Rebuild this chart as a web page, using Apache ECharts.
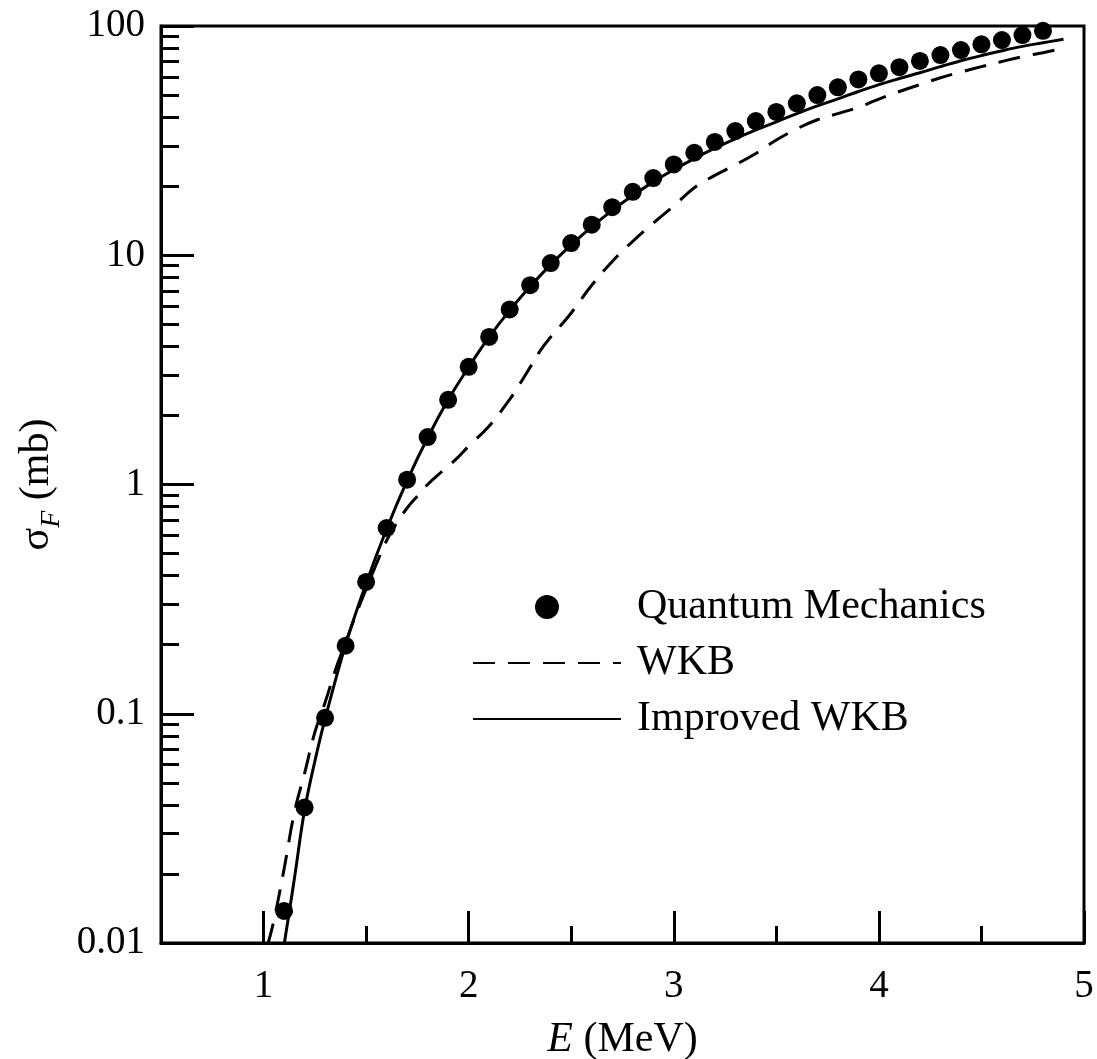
<!DOCTYPE html>
<html>
<head>
<meta charset="utf-8">
<script src="https://cdn.jsdelivr.net/npm/echarts@6.0.0/dist/echarts.min.js"></script>
<style>
  html, body { margin: 0; padding: 0; background: #fff; }
  #chart { width: 1097px; height: 1059px; }
</style>
</head>
<body>
<div id="chart"></div>
<script>
// Quantum mechanics points (dots)
const qmE = [1.1, 1.2, 1.3, 1.4, 1.5, 1.6, 1.7, 1.8, 1.9, 2.0,
  2.1, 2.2, 2.3, 2.4, 2.5, 2.6, 2.7, 2.8, 2.9, 3.0,
  3.1, 3.2, 3.3, 3.4, 3.5, 3.6, 3.7, 3.8, 3.9, 4.0,
  4.1, 4.2, 4.3, 4.4, 4.5, 4.6, 4.7, 4.8];
const qmSigma = [0.0138, 0.039, 0.096, 0.198, 0.376, 0.646, 1.05, 1.61, 2.34, 3.26,
  4.4, 5.8, 7.4, 9.25, 11.3, 13.6, 16.2, 18.9, 21.7, 24.9,
  28.0, 31.2, 34.8, 38.5, 42.2, 46.0, 50.0, 54.0, 58.5, 62.2,
  66.1, 70.4, 74.7, 78.5, 83.2, 86.8, 91.3, 95.3];

// WKB (dashed)
const wkbE = [1.02, 1.05, 1.1, 1.15, 1.2, 1.25, 1.3, 1.35, 1.4, 1.45,
  1.5, 1.55, 1.6, 1.65, 1.7, 1.75, 1.8, 1.85, 1.9, 1.95,
  2.0, 2.1, 2.2, 2.25, 2.3, 2.35, 2.4, 2.45, 2.5, 2.6, 2.7, 2.8, 2.9,
  3.0, 3.1, 3.2, 3.3, 3.4, 3.5, 3.6, 3.7, 3.8, 3.9,
  4.0, 4.1, 4.2, 4.3, 4.4, 4.5, 4.6, 4.7, 4.8, 4.9];
const wkbSigma = [0.0098, 0.0125, 0.021, 0.037, 0.055, 0.083, 0.112, 0.155, 0.205, 0.27,
  0.35, 0.45, 0.57, 0.68, 0.79, 0.89, 1.0, 1.1, 1.2, 1.32,
  1.47, 1.8, 2.35, 2.75, 3.25, 3.85, 4.4, 4.95, 5.6, 7.4, 9.4, 11.5, 13.8,
  16.4, 19.7, 22.3, 24.8, 27.8, 31.8, 35.6, 39.0, 41.5, 44.2,
  48.0, 51.8, 55.5, 59.5, 63.0, 66.5, 70.0, 73.5, 76.5, 80.0];

// Improved WKB (solid)
const iwkbE = [1.1, 1.15, 1.2, 1.25, 1.3, 1.4, 1.5, 1.6, 1.7, 1.8,
  1.9, 2.0, 2.1, 2.2, 2.3, 2.4, 2.5, 2.6, 2.7, 2.8,
  2.9, 3.0, 3.1, 3.2, 3.3, 3.4, 3.5, 3.6, 3.7, 3.8,
  3.9, 4.0, 4.1, 4.2, 4.3, 4.4, 4.5, 4.6, 4.7, 4.8, 4.9];
const iwkbSigma = [0.0098, 0.019, 0.038, 0.062, 0.095, 0.2, 0.37, 0.64, 1.04, 1.6,
  2.34, 3.25, 4.4, 5.75, 7.3, 9.1, 11.1, 13.3, 15.7, 18.2,
  20.9, 23.6, 26.4, 29.3, 32.2, 35.2, 38.2, 41.5, 44.8, 48.1,
  51.8, 55.5, 59.0, 62.5, 66.5, 70.5, 74.3, 78.0, 81.5, 84.5, 87.5];

// axis ticks
const xMajor = [1, 2, 3, 4, 5];
const xMinor = [1.5, 2.5, 3.5, 4.5];
const yMajor = [0.01, 0.1, 1, 10, 100];
const yMinor = [0.02, 0.03, 0.04, 0.05, 0.06, 0.07, 0.08, 0.09,
  0.2, 0.3, 0.4, 0.5, 0.6, 0.7, 0.8, 0.9,
  2, 3, 4, 5, 6, 7, 8, 9,
  20, 30, 40, 50, 60, 70, 80, 90];

const zip = (xs, ys) => xs.map((x, i) => [x, ys[i]]);
const serif = "'Liberation Serif', 'Times New Roman', serif";

const chart = echarts.init(document.getElementById('chart'));

const option = {
  backgroundColor: '#fff',
  animation: false,
  textStyle: { fontFamily: serif, color: '#000' },
  grid: {
    left: 161, right: 13, top: 26, bottom: 116,
    outerBoundsMode: 'none',
    show: true, borderColor: '#000', borderWidth: 3,
    backgroundColor: 'transparent'
  },
  legend: {
    orient: 'vertical',
    left: 472,
    top: 586,
    padding: 0,
    itemWidth: 148,
    itemHeight: 24,
    itemGap: 14,
    selectedMode: false,
    textStyle: { fontFamily: serif, fontSize: 42, color: '#000', lineHeight: 42, padding: [0, 0, 0, 11] },
    data: [
      'Quantum Mechanics',
      { name: 'WKB', itemStyle: { opacity: 0 } },
      { name: 'Improved WKB', itemStyle: { opacity: 0 } }
    ]
  },
  xAxis: [
    {
      type: 'value', min: 0.5, max: 5,
      name: '{e|E}{t| (MeV)}',
      nameLocation: 'middle', nameGap: 76,
      nameTextStyle: {
        rich: {
          e: { fontFamily: serif, fontSize: 42, fontStyle: 'italic', color: '#000' },
          t: { fontFamily: serif, fontSize: 42, color: '#000' }
        }
      },
      splitLine: { show: false },
      axisLine: { lineStyle: { color: '#000', width: 3 } },
      axisTick: { inside: true, length: 32, lineStyle: { color: '#000', width: 3 }, customValues: xMajor },
      axisLabel: { fontFamily: serif, fontSize: 39, color: '#000', margin: 24, customValues: xMajor }
    },
    {
      type: 'value', min: 0.5, max: 5, position: 'bottom',
      splitLine: { show: false },
      axisLine: { show: false },
      axisLabel: { show: false },
      axisTick: { inside: true, length: 17, lineStyle: { color: '#000', width: 3 }, customValues: xMinor }
    }
  ],
  yAxis: [
    {
      type: 'log', logBase: 10, min: 0.01, max: 100,
      name: '{s|σ}{f|F}{t| (mb)}',
      nameLocation: 'middle', nameGap: 95, nameRotate: 90,
      nameTextStyle: {
        rich: {
          s: { fontFamily: serif, fontSize: 42, color: '#000', verticalAlign: 'bottom', padding: [0, 0, 8, 0] },
          f: { fontFamily: serif, fontSize: 28, fontStyle: 'italic', color: '#000', verticalAlign: 'bottom' },
          t: { fontFamily: serif, fontSize: 42, color: '#000', verticalAlign: 'bottom', padding: [0, 0, 8, 0] }
        }
      },
      splitLine: { show: false },
      axisLine: { lineStyle: { color: '#000', width: 3 } },
      axisTick: { inside: true, length: 33, lineStyle: { color: '#000', width: 3 }, customValues: yMajor },
      axisLabel: {
        fontFamily: serif, fontSize: 39, color: '#000', margin: 16, customValues: yMajor,
        formatter: v => String(+v.toPrecision(3))
      }
    },
    {
      type: 'log', logBase: 10, min: 0.01, max: 100, position: 'left',
      splitLine: { show: false },
      axisLine: { show: false },
      axisLabel: { show: false },
      axisTick: { inside: true, length: 18, lineStyle: { color: '#000', width: 3 }, customValues: yMinor }
    }
  ],
  series: [
    {
      name: 'Quantum Mechanics',
      type: 'scatter',
      data: zip(qmE, qmSigma),
      symbol: 'circle',
      symbolSize: 18,
      itemStyle: { color: '#000', opacity: 1 },
      z: 5
    },
    {
      name: 'WKB',
      type: 'line',
      data: zip(wkbE, wkbSigma),
      symbol: 'none',
      showSymbol: false,
      smooth: 0.4,
      itemStyle: { color: '#000' },
      lineStyle: { color: '#000', width: 3, type: [22, 13] }
    },
    {
      name: 'Improved WKB',
      type: 'line',
      data: zip(iwkbE, iwkbSigma),
      symbol: 'none',
      showSymbol: false,
      smooth: 0.4,
      itemStyle: { color: '#000' },
      lineStyle: { color: '#000', width: 3 }
    }
  ]
};

chart.setOption(option);
</script>
</body>
</html>
